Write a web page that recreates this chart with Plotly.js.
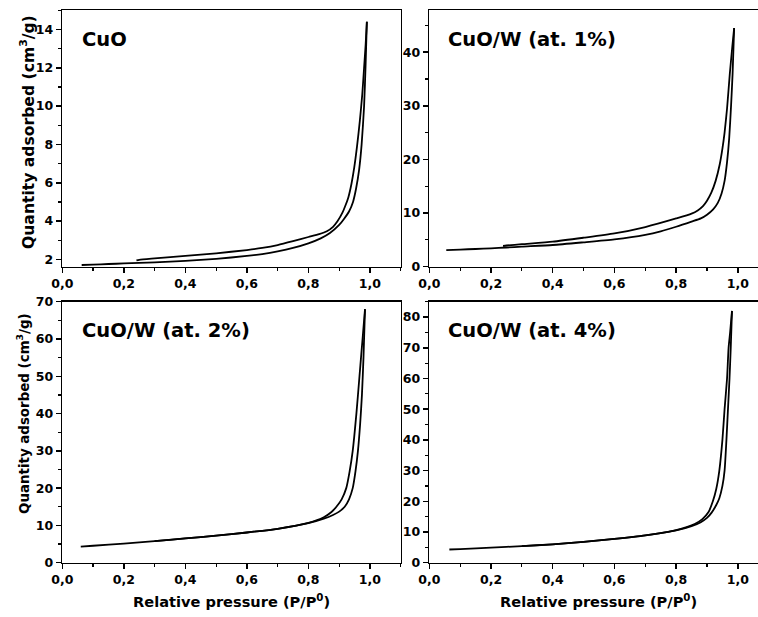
<!DOCTYPE html>
<html>
<head>
<meta charset="utf-8">
<script src="https://cdn.plot.ly/plotly-3.0.1.min.js"></script>
<style>
html,body{margin:0;padding:0;overflow:hidden;background:#fff;}
#chart{width:770px;height:617px;}
</style>
</head>
<body>
<div id="chart"></div>
<script>
// ---------- Data ----------
const panelLabels = ['CuO', 'CuO/W (at. 1%)', 'CuO/W (at. 2%)', 'CuO/W (at. 4%)'];
const xTitle = 'Relative pressure (P/P<sup>0</sup>)';
const yTitle = 'Quantity adsorbed (cm<sup>3</sup>/g)';

// CuO
const P_cuo_ads = [0.063, 0.1, 0.15, 0.2, 0.25, 0.3, 0.4, 0.5, 0.6, 0.65, 0.7, 0.75, 0.8, 0.84, 0.87, 0.9, 0.915, 0.932, 0.945, 0.955, 0.965, 0.973, 0.981, 0.986, 0.99];
const V_cuo_ads = [1.71, 1.73, 1.76, 1.79, 1.82, 1.85, 1.92, 2.03, 2.18, 2.28, 2.42, 2.6, 2.84, 3.1, 3.38, 3.8, 4.1, 4.5, 5.0, 5.7, 6.7, 8.0, 10.0, 12.2, 14.4];
const P_cuo_des = [0.99, 0.986, 0.981, 0.975, 0.967, 0.958, 0.949, 0.94, 0.93, 0.92, 0.911, 0.895, 0.88, 0.86, 0.835, 0.8, 0.75, 0.7, 0.65, 0.6, 0.5, 0.4, 0.3, 0.25, 0.241];
const V_cuo_des = [14.4, 13.2, 12.0, 10.6, 9.2, 7.9, 6.8, 5.95, 5.25, 4.8, 4.45, 4.0, 3.7, 3.47, 3.32, 3.17, 2.95, 2.75, 2.6, 2.49, 2.32, 2.18, 2.05, 1.98, 1.95];

// CuO/W 1%
const P_w1_ads = [0.055, 0.1, 0.15, 0.2, 0.25, 0.3, 0.4, 0.5, 0.6, 0.7, 0.75, 0.8, 0.85, 0.88, 0.9, 0.92, 0.935, 0.947, 0.957, 0.965, 0.972, 0.978, 0.983, 0.988];
const V_w1_ads = [3.1, 3.2, 3.3, 3.43, 3.58, 3.75, 4.05, 4.55, 5.1, 5.95, 6.6, 7.45, 8.4, 9.0, 9.7, 10.7, 11.9, 13.6, 16, 19.5, 24, 30, 36, 44.5];
const P_w1_des = [0.988, 0.982, 0.974, 0.965, 0.957, 0.95, 0.941, 0.928, 0.914, 0.9, 0.887, 0.87, 0.85, 0.8, 0.7, 0.6, 0.5, 0.4, 0.3, 0.25, 0.239];
const V_w1_des = [44.5, 41, 36, 29.5, 25, 22, 19, 16, 13.8, 12.3, 11.3, 10.5, 9.9, 9.0, 7.4, 6.2, 5.4, 4.67, 4.2, 3.95, 3.86];

// CuO/W 2%
const P_w2_ads = [0.06, 0.1, 0.2, 0.3, 0.4, 0.5, 0.6, 0.7, 0.8, 0.85, 0.88, 0.9, 0.918, 0.932, 0.944, 0.953, 0.961, 0.968, 0.974, 0.979, 0.984];
const V_w2_ads = [4.3, 4.55, 5.1, 5.8, 6.5, 7.25, 8.1, 9.1, 10.6, 11.8, 12.8, 13.7, 15, 17, 20, 24.5, 30, 37, 45, 55, 68];
const P_w2_des = [0.984, 0.978, 0.972, 0.966, 0.956, 0.944, 0.934, 0.923, 0.908, 0.891, 0.875, 0.85, 0.8, 0.7, 0.6, 0.5, 0.4, 0.3];
const V_w2_des = [68, 62, 56, 50, 40, 30, 24.5, 20, 17, 15, 13.6, 12.2, 10.7, 9.1, 8.1, 7.25, 6.5, 5.8];

// CuO/W 4%
const P_w4_ads = [0.065, 0.1, 0.2, 0.3, 0.4, 0.5, 0.6, 0.7, 0.8, 0.85, 0.88, 0.9, 0.915, 0.93, 0.94, 0.95, 0.957, 0.963, 0.968, 0.973, 0.977, 0.981];
const V_w4_ads = [4.3, 4.45, 4.9, 5.4, 6.0, 6.8, 7.75, 8.9, 10.5, 11.9, 13.2, 14.6, 16.3, 18.8, 21, 25, 30, 40, 50, 60, 70, 82];
const P_w4_des = [0.981, 0.975, 0.97, 0.965, 0.957, 0.95, 0.94, 0.93, 0.919, 0.905, 0.885, 0.86, 0.8, 0.7, 0.6, 0.5, 0.4, 0.3];
const V_w4_des = [82, 75, 70, 60, 50, 40, 30, 24, 20, 16.5, 14.2, 12.6, 10.6, 8.9, 7.75, 6.8, 6.0, 5.4];

const yRanges = [[1.62, 15.0], [0, 47.8], [0, 70], [0, 85]];
const yDticks = [2, 10, 10, 10];
const yMinor = [1, 5, 5, 5];

// ---------- Layout helpers ----------
const W = 770, H = 617;
const px = x => x / W;
const py = y => 1 - y / H;
const colL = [62.3, 400.7], colR = [429.3, 768.7];
const rowT = [10.3, 266.7], rowB = [301.7, 562.7];
const cells = [[colL, rowT], [colR, rowT], [colL, rowB], [colR, rowB]];

const FONT = 'DejaVu Sans';
const series = [
  [P_cuo_ads, V_cuo_ads, P_cuo_des, V_cuo_des],
  [P_w1_ads, V_w1_ads, P_w1_des, V_w1_des],
  [P_w2_ads, V_w2_ads, P_w2_des, V_w2_des],
  [P_w4_ads, V_w4_ads, P_w4_des, V_w4_des]
];

const traces = [];
series.forEach((s, i) => {
  const sfx = i === 0 ? '' : String(i + 1);
  const line = {color: '#000', width: 1.8, shape: 'spline', smoothing: 0.6};
  traces.push({x: s[0], y: s[1], mode: 'lines', line: line, xaxis: 'x' + sfx, yaxis: 'y' + sfx, showlegend: false, hoverinfo: 'skip', name: panelLabels[i] + ' adsorption'});
  traces.push({x: s[2], y: s[3], mode: 'lines', line: line, xaxis: 'x' + sfx, yaxis: 'y' + sfx, showlegend: false, hoverinfo: 'skip', name: panelLabels[i] + ' desorption'});
});

const tickfont = {family: FONT, size: 12.5, weight: 'bold', color: '#000'};
const baseAxis = {
  showline: true, linecolor: '#000', linewidth: 1.6, mirror: true,
  ticks: 'outside', ticklen: 5, tickwidth: 1.5, tickcolor: '#000',
  showgrid: false, zeroline: false, tickfont: tickfont, fixedrange: true
};

const layout = {
  width: W, height: H,
  margin: {l: 0, r: 0, t: 0, b: 0},
  paper_bgcolor: '#fff', plot_bgcolor: '#fff',
  separators: ', ',
  showlegend: false,
  annotations: []
};

cells.forEach((c, i) => {
  const sfx = i === 0 ? '' : String(i + 1);
  layout['xaxis' + sfx] = Object.assign({}, baseAxis, {
    domain: [px(c[0][0]), px(c[0][1])],
    anchor: 'y' + sfx,
    range: [0, 1.1], tick0: 0, dtick: 0.2, tickformat: '.1f',
    ticklabelstandoff: 0,
    minor: {ticks: 'outside', dtick: 0.1, ticklen: 3, tickwidth: 1.2, tickcolor: '#000', showgrid: false}
  });
  layout['yaxis' + sfx] = Object.assign({}, baseAxis, {
    domain: [py(c[1][1]), py(c[1][0])],
    anchor: 'x' + sfx,
    range: yRanges[i], dtick: yDticks[i], tick0: 0,
    ticklabelstandoff: 0,
    minor: {ticks: 'outside', dtick: yMinor[i], ticklen: 3, tickwidth: 1.2, tickcolor: '#000', showgrid: false}
  });
  const labY = i < 2 ? 39 : 330.5;
  const labX = (i % 2 === 0) ? 80 : 446;
  layout.annotations.push({
    text: panelLabels[i], xref: 'paper', yref: 'paper', x: px(labX), y: py(labY),
    xanchor: 'left', yanchor: 'middle', showarrow: false,
    font: {family: FONT, size: 19.5, weight: 'bold', color: '#000'}
  });
});

// y titles (left column)
layout.annotations.push({
  text: yTitle, xref: 'paper', yref: 'paper', x: px(27), y: py(132),
  xanchor: 'center', yanchor: 'middle', textangle: -90, showarrow: false,
  font: {family: FONT, size: 15.6, weight: 'bold', color: '#000'}
});
layout.annotations.push({
  text: yTitle, xref: 'paper', yref: 'paper', x: px(23), y: py(414),
  xanchor: 'center', yanchor: 'middle', textangle: -90, showarrow: false,
  font: {family: FONT, size: 13.4, weight: 'bold', color: '#000'}
});
// x titles (bottom row)
[231, 598.7].forEach(cx => {
  layout.annotations.push({
    text: xTitle, xref: 'paper', yref: 'paper', x: px(cx), y: py(601),
    xanchor: 'center', yanchor: 'middle', showarrow: false,
    font: {family: FONT, size: 14.6, weight: 'bold', color: '#000'}
  });
});

Plotly.newPlot('chart', traces, layout, {displayModeBar: false, staticPlot: true});
</script>
</body>
</html>
